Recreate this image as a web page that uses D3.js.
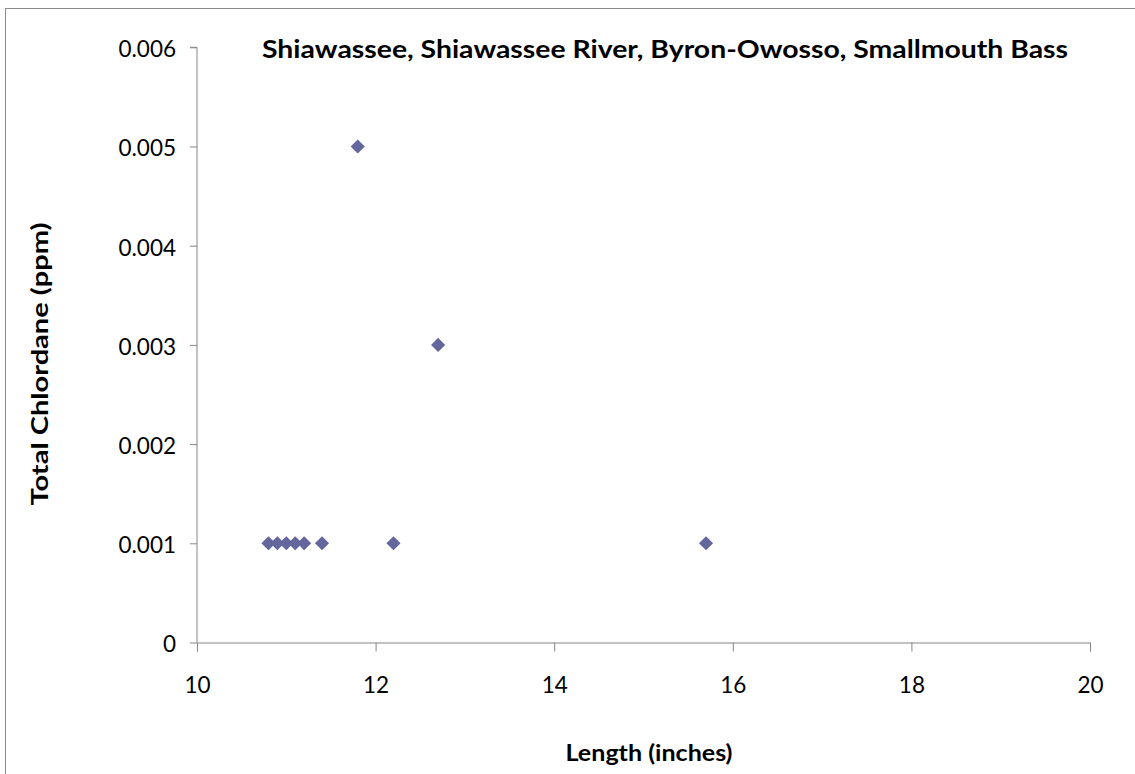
<!DOCTYPE html>
<html>
<head>
<meta charset="utf-8">
<script src="https://d3js.org/d3.v7.min.js"></script>
<style>
  html, body { margin: 0; padding: 0; background: #ffffff; }
  svg { display: block; }
  text { font-family: Lato, "Open Sans", "Liberation Sans", sans-serif; fill: #000; }
</style>
</head>
<body>
<svg id="chart" width="1135" height="774"></svg>
<script>
// ---- data ----
const lengths = [10.8, 10.9, 11.0, 11.1, 11.2, 11.4, 11.8, 12.2, 12.7, 15.7];
const chlordane = [0.001, 0.001, 0.001, 0.001, 0.001, 0.001, 0.005, 0.001, 0.003, 0.001];
const xTicks = [10, 12, 14, 16, 18, 20];
const yTicks = [0, 0.001, 0.002, 0.003, 0.004, 0.005, 0.006];
const yTickLabels = ["0", "0.001", "0.002", "0.003", "0.004", "0.005", "0.006"];
const titleText = "Shiawassee, Shiawassee River, Byron-Owosso, Smallmouth Bass";
const xLabel = "Length (inches)";
const yLabel = "Total Chlordane (ppm)";

// ---- layout ----
const W = 1135, H = 774;
const plot = { left: 197, right: 1090, top: 47.3, bottom: 642.5 };
const axisColor = "#868686";
const markColor = "#64669e";

const svg = d3.select("#chart");

// outer chart border (extends beyond the bottom/right of the view)
svg.append("rect")
  .attr("x", 5.5).attr("y", 8.5)
  .attr("width", W + 10).attr("height", H + 10)
  .attr("fill", "#fff").attr("stroke", "#8a8a8a").attr("stroke-width", 1);

const x = d3.scaleLinear().domain([10, 20]).range([plot.left, plot.right]);
const y = d3.scaleLinear().domain([0, 0.006]).range([plot.bottom, plot.top]);

// y axis
const yAxis = d3.axisLeft(y).tickValues(yTicks)
  .tickFormat((d, i) => yTickLabels[i]).tickSize(7).tickPadding(14);
const gy = svg.append("g").attr("transform", `translate(${plot.left},0)`).call(yAxis);
gy.select(".domain").attr("stroke", axisColor).attr("d", `M-7,${plot.top}H0V${plot.bottom}`);
gy.selectAll(".tick line").attr("stroke", axisColor);
gy.selectAll(".tick text").attr("font-family", "Lato").attr("font-size", 22.5).attr("fill", "#000").attr("dy", "0.42em");

// x axis
const xAxis = d3.axisBottom(x).tickValues(xTicks).tickFormat(d3.format("d")).tickSize(9).tickPadding(26);
const gx = svg.append("g").attr("transform", `translate(0,${plot.bottom})`).call(xAxis);
gx.select(".domain").attr("stroke", axisColor);
gx.selectAll(".tick line").attr("stroke", axisColor);
gx.selectAll(".tick text").attr("font-family", "Lato").attr("font-size", 22.5).attr("fill", "#000");

// points (diamonds)
svg.append("g").selectAll("path")
  .data(lengths.map((l, i) => [l, chlordane[i]]))
  .join("path")
  .attr("d", d3.symbol().type(d3.symbolSquare).size(100))
  .attr("transform", d => `translate(${x(d[0])},${y(d[1])}) rotate(45)`)
  .attr("fill", markColor);

// title
svg.append("text")
  .attr("x", 665).attr("y", 58)
  .attr("text-anchor", "middle")
  .attr("font-weight", "bold").attr("font-size", 24)
  .attr("textLength", 806).attr("lengthAdjust", "spacingAndGlyphs")
  .text(titleText);

// x label
svg.append("text")
  .attr("x", 649).attr("y", 761)
  .attr("text-anchor", "middle")
  .attr("font-weight", "bold").attr("font-size", 23)
  .attr("textLength", 167).attr("lengthAdjust", "spacingAndGlyphs")
  .text(xLabel);

// y label
svg.append("text")
  .attr("transform", "translate(48,364) rotate(-90)")
  .attr("text-anchor", "middle")
  .attr("font-weight", "bold").attr("font-size", 23)
  .attr("textLength", 283).attr("lengthAdjust", "spacingAndGlyphs")
  .text(yLabel);
</script>
</body>
</html>
